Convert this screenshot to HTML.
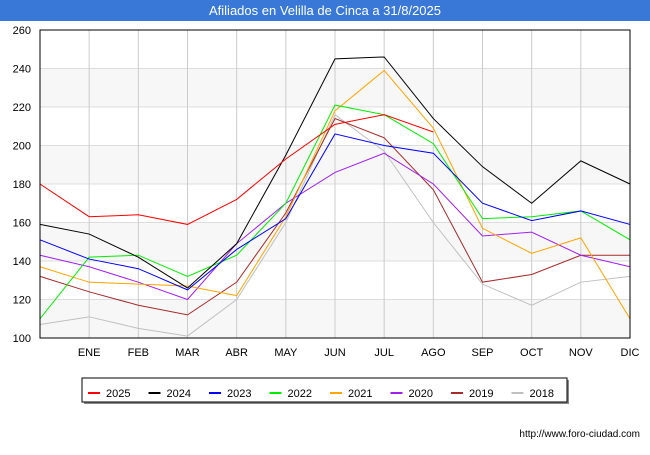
<!DOCTYPE html>
<html><head><meta charset="utf-8"><style>
body{margin:0;width:650px;height:450px;background:#fff;font-family:"Liberation Sans",sans-serif;overflow:hidden}
</style></head><body>
<svg width="650" height="450">
<rect x="0" y="0" width="650" height="21" fill="#3a78d8"/>
<text x="325" y="15" text-anchor="middle" fill="#fff" font-size="13">Afiliados en Velilla de Cinca a 31/8/2025</text>
<g id="grid"></g>
<g id="series"></g>
<rect x="40" y="30" width="590" height="308" fill="none" stroke="#000"/>
<g id="legend"></g>
<text x="640" y="437" text-anchor="end" font-size="10" fill="#000">http://www.foro-ciudad.com</text>
</svg>
<script>
const months=["","ENE","FEB","MAR","ABR","MAY","JUN","JUL","AGO","SEP","OCT","NOV","DIC"];
const yTicks=[100,120,140,160,180,200,220,240,260];
const years=["2025","2024","2023","2022","2021","2020","2019","2018"];
const colors=["#ff0000","#000000","#0000ff","#00ee00","#ffa500","#a020f0","#a52a2a","#c0c0c0"];
const s2025=[180,163,164,159,172,193,211,216,207];
const s2024=[159,154,142,126,149,195,245,246,214,189,170,192,180];
const s2023=[151,141,136,125,146,162,206,200,196,170,161,166,159];
const s2022=[110,142,143,132,143,170,221,216,201,162,163,166,151];
const s2021=[137,129,128,127,122,163,218,239,209,157,144,152,110];
const s2020=[143,137,129,120,149,170,186,196,180,153,155,143,137];
const s2019=[132,124,117,112,129,165,214,204,177,129,133,143,143];
const s2018=[107,111,105,101,120,160,216,197,160,128,117,129,132];
const data=[s2025,s2024,s2023,s2022,s2021,s2020,s2019,s2018];
const NS="http://www.w3.org/2000/svg";
const x=i=>40+i*590/12, y=v=>338-(v-100)*308/160;
const grid=document.getElementById('grid');
function mk(t,a,p){const e=document.createElementNS(NS,t);for(const k in a)e.setAttribute(k,a[k]);p.appendChild(e);return e;}
yTicks.forEach((v,i)=>{
 if(i<yTicks.length-1&&i%2==0){const r=mk('rect',{x:40,y:y(v+20),width:590,height:y(v)-y(v+20),fill:'#f7f7f7'},grid);
 
 }
 const l=mk('line',{x1:40,x2:630,y1:y(v),y2:y(v),stroke:'#ddd'},grid);
 
 
 const t=mk('text',{x:31,y:y(v)+4,'text-anchor':'end','font-size':11},grid);t.textContent=v;
 
 
});
months.forEach((m,i)=>{
 const l=mk('line',{x1:x(i),x2:x(i),y1:30,y2:338,stroke:'#ccc'},grid);
 
 
 const t=mk('text',{x:x(i),y:356,'text-anchor':'middle','font-size':11},grid);t.textContent=m;
 
 
});
const sg=document.getElementById('series');
for(let k=data.length-1;k>=0;k--){
 const p=mk('polyline',{points:data[k].map((v,i)=>x(i)+','+y(v)).join(' '),fill:'none',stroke:colors[k],'stroke-width':1},sg);
 
 
}
const lg=document.getElementById('legend');
mk('rect',{x:84,y:380,width:485,height:24,fill:'#888'},lg);
const box=mk('rect',{x:82,y:378,width:485,height:24,fill:'#fff',stroke:'#000'},lg);


years.forEach((yr,i)=>{
 const gx=88+i*60.5;
 mk('line',{x1:gx,x2:gx+12,y1:393,y2:393,stroke:colors[i],'stroke-width':2},lg);
 const t=mk('text',{x:gx+18,y:397,'font-size':11},lg);t.textContent=yr;
 
 
});
</script>
</body></html>
